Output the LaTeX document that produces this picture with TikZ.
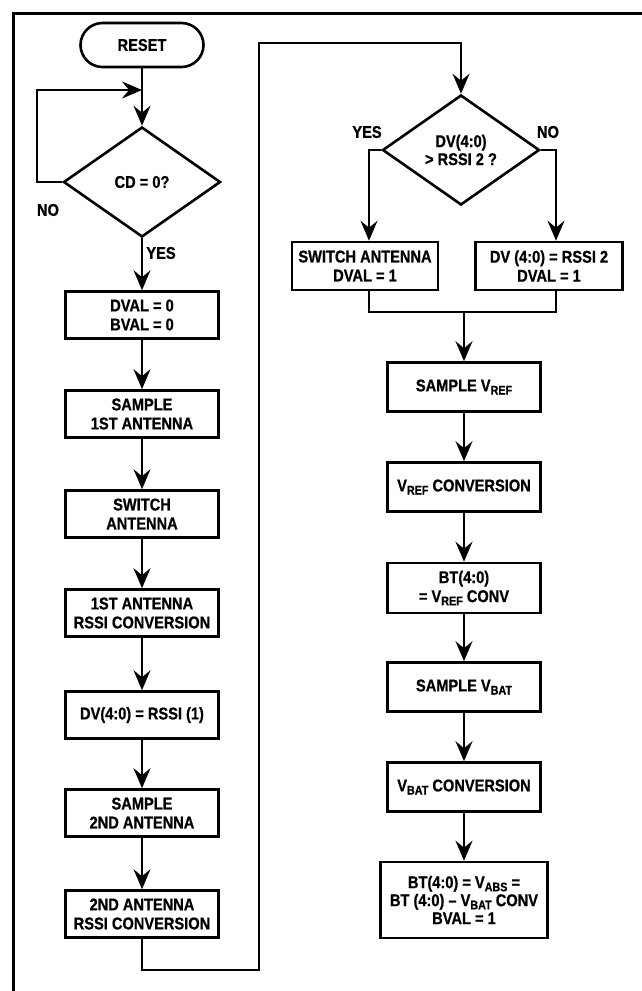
\documentclass[tikz,border=0pt]{standalone}
\usepackage{fontspec}
\setmainfont{Liberation Sans}[FakeStretch=0.86,BoldFeatures={FakeBold=0.8}]
\usetikzlibrary{shapes.geometric,arrows.meta}
\newcommand\lowsub[1]{\raisebox{-0.35ex}{\fontsize{12.5}{12.5}\selectfont #1}}
\begin{document}
\begin{tikzpicture}[x=1pt,y=-1pt,
  txt/.style={font=\fontsize{17}{19}\selectfont\bfseries},
  box/.style={txt, draw, line width=2.6pt, minimum width=153pt, minimum height=47pt, inner sep=2pt, align=center},
  dia/.style={txt, diamond, draw, line width=2.6pt, minimum width=157pt, minimum height=110pt, inner sep=0pt, align=center},
  term/.style={txt, draw, line width=2.6pt, rounded corners=22pt, minimum width=123pt, minimum height=44pt},
  arr/.style={line width=2pt, -{Stealth[length=20pt,width=17pt,inset=7pt]}},
  ln/.style={line width=2pt},
  frame/.style={line width=3pt}]
\useasboundingbox (0,0) rectangle (642,991);
% frame
\coordinate (fTL) at (13,13);
\coordinate (fTR) at (642,13);
\coordinate (fBL) at (13,991);
\draw[frame] (fTR) -- (fTL) -- (fBL);

% left column
\node[term] (reset) at (142,45) {RESET};
\node[dia] (cd) at (142,182) {CD = 0?};
\node[box] (dval) at (142,315) {DVAL = 0\\BVAL = 0};
\node[box] (s1) at (142,414) {SAMPLE\\1ST ANTENNA};
\node[box] (sw) at (142,514) {SWITCH\\ANTENNA};
\node[box] (c1) at (142,613) {1ST ANTENNA\\RSSI CONVERSION};
\node[box] (dv1) at (142,715) {DV(4:0) = RSSI (1)};
\node[box] (s2) at (142,813) {SAMPLE\\2ND ANTENNA};
\node[box] (c2) at (142,914) {2ND ANTENNA\\RSSI CONVERSION};

\node[txt] (no1) at (48,210) {NO};
\node[txt] (yes1) at (161,253) {YES};

\coordinate (join) at (142,90);
\coordinate (loopL) at (37,90);
\draw[arr] (reset.south) -- (cd.north);
\draw[arr] (cd.west) -| (loopL) -- (join);
\draw[arr] (cd.south) -- (dval.north);
\draw[arr] (dval.south) -- (s1.north);
\draw[arr] (s1.south) -- (sw.north);
\draw[arr] (sw.south) -- (c1.north);
\draw[arr] (c1.south) -- (dv1.north);
\draw[arr] (dv1.south) -- (s2.north);
\draw[arr] (s2.south) -- (c2.north);

% right column
\node[dia] (dv) at (461,150) {DV(4:0)\\[-1pt]{>} RSSI 2 ?};
\node[txt] (yes2) at (367,132) {YES};
\node[txt] (no2) at (548,132) {NO};
\node[box, minimum width=146pt, minimum height=48pt] (swa) at (365,266) {SWITCH ANTENNA\\DVAL = 1};
\node[box, minimum width=147pt, minimum height=48pt] (nob) at (549,266) {DV (4:0) = RSSI 2\\DVAL = 1};
\node[box, minimum height=49pt] (sref) at (464,387) {SAMPLE V\lowsub{REF}};
\node[box, minimum height=49pt] (cref) at (464,487) {V\lowsub{REF} CONVERSION};
\node[box, minimum height=50pt] (bt) at (464,588) {BT(4:0)\\= V\lowsub{REF} CONV};
\node[box, minimum height=49pt] (sbat) at (464,687) {SAMPLE V\lowsub{BAT}};
\node[box, minimum height=49pt] (cbat) at (464,787) {V\lowsub{BAT} CONVERSION};
\node[box, minimum width=167pt, minimum height=76pt, font=\fontsize{17}{18}\selectfont\bfseries] (fin) at (464,900) {BT(4:0) = V\lowsub{ABS} =\\BT (4:0) -- V\lowsub{BAT} CONV\\BVAL = 1};

% loop from left column to right column
\coordinate (b1) at (142,970);
\coordinate (b2) at (259,970);
\coordinate (t2) at (259,43);
\draw[arr] (c2.south) -- (b1) -- (b2) -- (t2) -| (dv.north);

% branches
\coordinate (yx) at (369,150);
\coordinate (nx) at (556,150);
\draw[arr] (dv.west) -- (yx) -- (yx |- swa.north);
\draw[arr] (dv.east) -- (nx) -- (nx |- nob.north);
\coordinate (m1) at (369,312);
\coordinate (m2) at (556,312);
\coordinate (mm) at (464,312);
\draw[ln] (yx |- swa.south) -- (m1) -- (m2) -- (nx |- nob.south);
\draw[arr] (mm) -- (sref.north);
\draw[arr] (sref.south) -- (cref.north);
\draw[arr] (cref.south) -- (bt.north);
\draw[arr] (bt.south) -- (sbat.north);
\draw[arr] (sbat.south) -- (cbat.north);
\draw[arr] (cbat.south) -- (fin.north);
\end{tikzpicture}
\end{document}
